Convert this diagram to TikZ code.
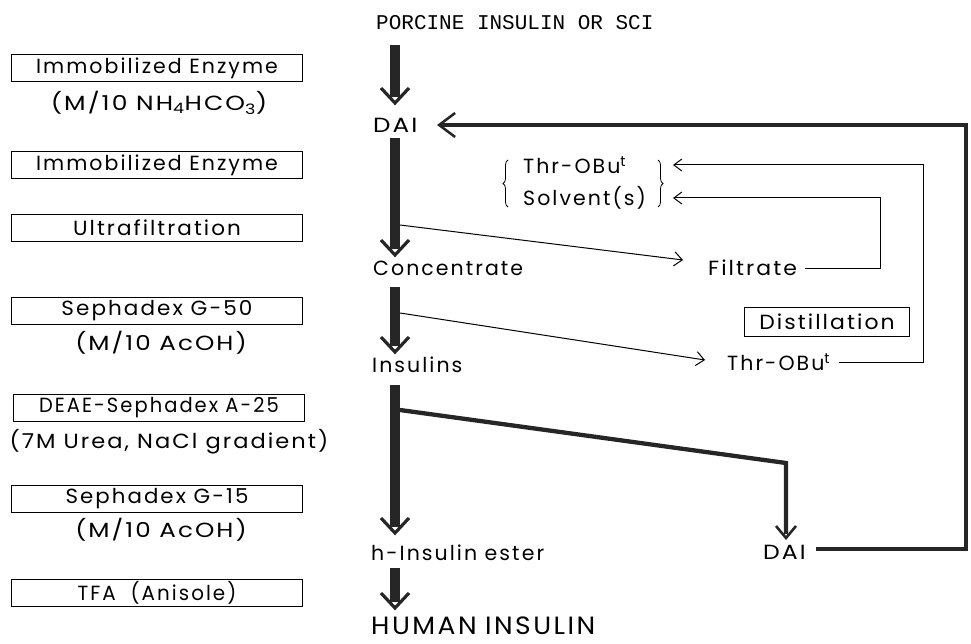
\documentclass[tikz,border=0pt]{standalone}
\usepackage{fontspec}
\setmainfont{Poppins}[LetterSpace=10]
\newfontfamily\monofont{Liberation Mono}
\usetikzlibrary{arrows.meta,decorations.pathreplacing,calc}
\newcommand\bigarrow[2]{%
  \draw[shaft] (#1) -- ($(#2)+(0,-6)$);
  \draw[vhead] ($(#2)+(-14,-15)$) -- (#2) -- ($(#2)+(14,-15)$);}
\newcommand\medarrow[2]{%
  \draw[vhead,line width=2.6pt] ($(#2)+(-10,-12)$) -- (#2) -- ($(#2)+(10,-12)$);}
\newcommand\stretchto[1]{\addfontfeature{FakeStretch=#1}}
\begin{document}
\begin{tikzpicture}[x=1pt,y=-1pt,
  txt/.style={anchor=west,inner sep=0pt,font=\fontsize{20.5}{22}\selectfont},
  boxlbl/.style={draw,line width=0.9pt,minimum width=291pt,minimum height=27pt,inner sep=0pt,font=\fontsize{20.5}{22}\selectfont},
  sub/.style={inner sep=0pt,font=\fontsize{20.5}{22}\selectfont},
  shaft/.style={line width=10pt,color=black!85},
  vhead/.style={line width=3.2pt,color=black!85,line join=miter},
  thickline/.style={line width=4.3pt,color=black!85},
  thinarr/.style={line width=1pt,-{Straight Barb[length=8pt,width=14pt]}},
  fbarr/.style={line width=1pt,-{Straight Barb[length=8pt,width=12pt]}},
  dbarr/.style={thickline,-{Straight Barb[length=16pt,width=24pt,line width=2.5pt]}},
  bracestyle/.style={decorate,decoration={brace,amplitude=5pt},line width=0.8pt}]
\useasboundingbox (0,0) rectangle (971,644);

% left column
\node[boxlbl] (b1) at (157,68) {Immobilized Enzyme};
\node[sub] (s1) at (159,103) {\stretchto{1.22}(M/10 NH\textsubscript{4}HCO\textsubscript{3})};
\node[boxlbl] (b2) at (157,165) {Immobilized Enzyme};
\node[boxlbl] (b3) at (157,228) {\stretchto{1.05}Ultrafiltration};
\node[boxlbl] (b4) at (157,311) {\stretchto{1.05}Sephadex G-50};
\node[sub] (s4) at (161,343) {\stretchto{1.2}(M/10 AcOH)};
\node[boxlbl] (b5) at (159,408) {\stretchto{0.95}DEAE-Sephadex A-25};
\node[sub] (s5) at (169,442) {\stretchto{1.1}(7M Urea, NaCl gradient)};
\node[boxlbl] (b6) at (157,499) {\stretchto{1.04}Sephadex G-15};
\node[sub] (s6) at (161,530) {\stretchto{1.2}(M/10 AcOH)};
\node[boxlbl] (b7) at (157,593) {\stretchto{0.97}TFA\ \ (Anisole)};

% main column
\node[anchor=west,inner sep=0pt,font=\monofont\fontsize{21}{23}\selectfont] (porc) at (376,23) {PORCINE INSULIN OR SCI};
\node[txt] (dai) at (373,125) {\stretchto{1.2}DAI};
\node[txt] (conc) at (373,268) {Concentrate};
\node[txt] (ins) at (372,365) {Insulins};
\node[txt] (hie) at (371,553) {h-Insulin ester};
\node[anchor=base west,inner sep=0pt,font=\fontsize{25}{27}\selectfont] (hum) at (371,634) {\stretchto{1.06}HUMAN\,\,INSULIN};

% right texts
\node[txt] (thr1) at (523,165) {Thr-OBu\textsuperscript{t}};
\node[txt] (solv) at (523,198) {Solvent(s)};
\node[txt] (filt) at (708,268) {\stretchto{1.07}Filtrate};
\node[txt] (thr2) at (727,362) {Thr-OBu\textsuperscript{t}};
\node[txt] (dai2) at (763,552) {\stretchto{1.15}DAI};
\node[boxlbl,minimum width=165pt,minimum height=29pt] (dist) at (827,322) {\stretchto{1.07}Distillation};

% braces
\draw[bracestyle] (508,207) -- (508,160);
\draw[bracestyle] (658,160) -- (658,207);

% coordinates
\coordinate (a1s) at (395,45);  \coordinate (a1e) at (395,103);
\coordinate (a2s) at (395,138); \coordinate (a2e) at (395,255);
\coordinate (a3s) at (395,287); \coordinate (a3e) at (395,352);
\coordinate (a4s) at (395,385); \coordinate (a4e) at (395,533);
\coordinate (a5s) at (395,568); \coordinate (a5e) at (395,608);

\bigarrow{a1s}{a1e}
\bigarrow{a2s}{a2e}
\bigarrow{a3s}{a3e}
\bigarrow{a4s}{a4e}
\bigarrow{a5s}{a5e}

% thin branches
\coordinate (br1) at (400,225); \coordinate (br1e) at (683,260);
\coordinate (br2) at (400,313); \coordinate (br2e) at (705,360);
\draw[thinarr] (br1) -- (br1e);
\draw[thinarr] (br2) -- (br2e);

% thick branch to DAI
\coordinate (br3) at (400,410); \coordinate (br3k) at (786,463); \coordinate (br3e) at (786,538);
\draw[thickline] (br3) -- (br3k) -- ($(br3e)+(0,-4)$);
\medarrow{br3k}{br3e}

% feedback loops
\coordinate (ft1) at (673,165); \coordinate (ft2) at (673,198);
\draw[fbarr] (filt.east) ++(8,0) -| (880,198) -- (ft2);
\draw[fbarr] (thr2.east) ++(9,0) -| (923,165) -- (ft1);

\coordinate (dtip) at (437,125);
\draw[dbarr] ($(dai2.east)+(10,-3)$) -| (966,125) -- (dtip);
\end{tikzpicture}
\end{document}
